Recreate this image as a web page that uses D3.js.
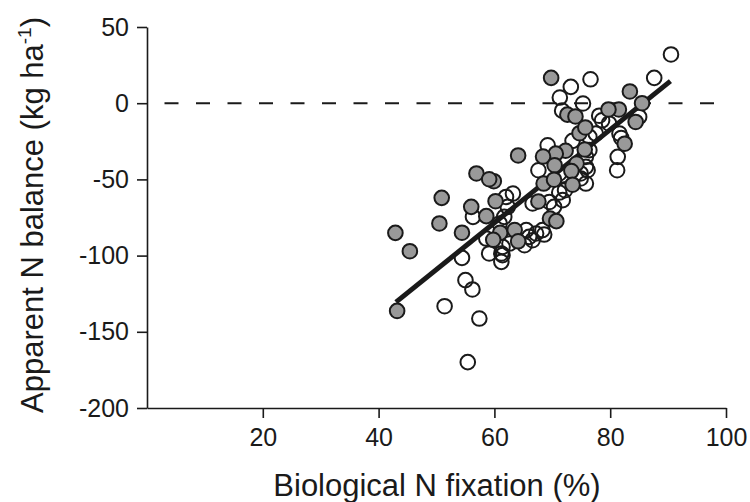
<!DOCTYPE html>
<html>
<head>
<meta charset="utf-8">
<script src="https://cdn.jsdelivr.net/npm/d3@7"></script>
<style>
  html, body { margin: 0; padding: 0; background: #ffffff; }
  svg { display: block; }
  text { font-family: "Liberation Sans", Arial, Helvetica, sans-serif; fill: #1a1a1a; }
</style>
</head>
<body>
<div id="chart"></div>
<script>
// ---- Data ----
const openX = [90.5, 87.6, 76.6, 73.2, 71.3, 75.3, 71.7, 78.1, 78.6, 79.8, 85.0, 77.5, 76.4, 81.6, 81.9, 81.3, 81.2,
  69.2, 67.6, 71.2, 71.8, 74.9, 76.1, 75.8, 76.4, 75.8, 74.9, 73.5, 75.8, 63.2, 62.0, 66.6, 69.5, 71.2, 72.2, 71.8,
  70.3, 62.3, 61.7, 56.3, 60.9, 66.0, 67.2, 68.3, 65.5, 66.6, 65.2, 62.6, 58.6, 59.1, 61.2, 61.4, 61.4, 61.2, 54.4,
  55.0, 56.2, 51.4, 57.4, 55.4, 68.6];
const openY = [32.0, 16.6, 15.7, 10.7, 3.7, -0.2, -4.9, -8.2, -11.2, -13.3, -9.0, -19.9, -22.1, -19.9, -22.8, -35.2, -44.0,
  -27.6, -44.0, -46.1, -47.2, -46.1, -44.0, -41.8, -30.8, -52.7, -49.4, -24.7, -35.2, -59.3, -61.5, -65.8, -64.8, -58.6, -57.1, -63.6,
  -68.0, -68.0, -74.6, -74.6, -78.9, -87.7, -85.5, -83.3, -83.3, -89.9, -93.2, -92.1, -88.8, -98.6, -98.6, -94.3, -99.7, -104.1, -101.5,
  -116.1, -122.2, -133.2, -141.3, -169.9, -86.2];

const filledX = [69.8, 83.4, 85.5, 81.5, 79.7, 84.4, 72.6, 74.0, 74.7, 75.7, 82.5, 75.6, 72.3, 70.6, 68.4, 64.1, 70.4,
  74.2, 73.3, 68.5, 70.3, 73.5, 56.9, 59.9, 59.1, 50.9, 60.2, 56.0, 58.6, 67.6, 69.6, 70.7, 50.5, 42.9, 54.4, 61.0,
  63.5, 64.1, 59.8, 45.4, 43.2];
const filledY = [16.6, 7.7, 0, -4.1, -4.1, -12.3, -7.5, -8.7, -19.7, -15.9, -26.6, -30.4, -31.2, -33.1, -35.0, -34.3, -40.7,
  -39.6, -44.5, -52.7, -50.2, -53.5, -46.1, -51.2, -49.9, -62.1, -64.3, -68.0, -74.1, -64.5, -75.7, -77.4, -78.9, -85.1, -85.0, -85.0,
  -83.2, -90.6, -89.6, -97.1, -136.3];

// regression line end points
const fitX = [43.0, 90.4];
const fitY = [-130.5, 14.5];

const xTicks = [20, 40, 60, 80, 100];
const yTicks = [50, 0, -50, -100, -150, -200];
const xTitle = "Biological N fixation (%)";
const yTitleMain = "Apparent N balance (kg ha";
const yTitleSup = "-1";

// ---- Layout ----
const W = 750, H = 502;
const margin = { left: 147, right: 24, top: 27, bottom: 94 };
const innerW = W - margin.left - margin.right;
const innerH = H - margin.top - margin.bottom;

const svg = d3.select("#chart").append("svg").attr("width", W).attr("height", H);
const g = svg.append("g").attr("transform", `translate(${margin.left},${margin.top})`);

const x = d3.scaleLinear().domain([0, 100]).range([0, innerW]);
const y = d3.scaleLinear().domain([-200, 50]).range([innerH, 0]);

const ink = "#1a1a1a";
const fmt = d => String(d);

// axes
const xAxis = d3.axisBottom(x).tickValues(xTicks).tickFormat(fmt).tickSize(10).tickSizeOuter(0).tickPadding(10);
const yAxis = d3.axisLeft(y).tickValues(yTicks).tickFormat(fmt).tickSize(10).tickSizeOuter(0).tickPadding(8);

const gx = g.append("g").attr("transform", `translate(0,${innerH})`).call(xAxis);
const gy = g.append("g").call(yAxis);
[gx, gy].forEach(a => {
  a.select(".domain").attr("stroke", ink).attr("stroke-width", 1.6);
  a.selectAll(".tick line").attr("stroke", ink).attr("stroke-width", 1.6);
  a.selectAll(".tick text").style("font-size", "25px").attr("fill", ink)
    .style("font-family", '"Liberation Sans", Arial, sans-serif');
});

// zero dashed line
g.append("line")
  .attr("x1", x(0)).attr("x2", x(100))
  .attr("y1", y(0)).attr("y2", y(0))
  .attr("stroke", ink).attr("stroke-width", 2)
  .attr("stroke-dasharray", "14,17.5").attr("stroke-dashoffset", 14);

// open points (no fill)
const openData = openX.map((v, i) => ({ x: v, y: openY[i] }));
g.append("g").selectAll("circle").data(openData).join("circle")
  .attr("cx", d => x(d.x)).attr("cy", d => y(d.y)).attr("r", 7.3)
  .attr("fill", "none").attr("stroke", ink).attr("stroke-width", 2);

// regression line
const lineData = fitX.map((v, i) => ({ x: v, y: fitY[i] }));
g.append("path").datum(lineData)
  .attr("d", d3.line().x(d => x(d.x)).y(d => y(d.y)))
  .attr("stroke", ink).attr("stroke-width", 5).attr("fill", "none");

// filled points
const filledData = filledX.map((v, i) => ({ x: v, y: filledY[i] }));
g.append("g").selectAll("circle").data(filledData).join("circle")
  .attr("cx", d => x(d.x)).attr("cy", d => y(d.y)).attr("r", 7.3)
  .attr("fill", "#999999").attr("stroke", ink).attr("stroke-width", 2);

// axis titles
svg.append("text")
  .attr("x", 437).attr("y", 496)
  .attr("text-anchor", "middle").style("font-size", "31px")
  .text(xTitle);

const yt = svg.append("text")
  .attr("transform", `translate(43,215) rotate(-90)`)
  .attr("text-anchor", "middle").style("font-size", "31px");
yt.append("tspan").text(yTitleMain);
yt.append("tspan").attr("dy", -12).style("font-size", "19px").text(yTitleSup);
yt.append("tspan").attr("dy", 12).text(")");
</script>
</body>
</html>
